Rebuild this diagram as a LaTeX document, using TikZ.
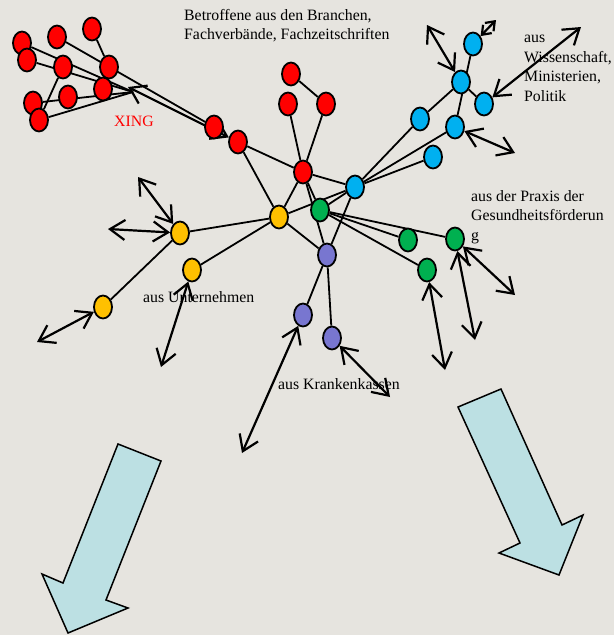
\documentclass[tikz,border=0pt]{standalone}
\usepackage{fontspec}
\setmainfont{Liberation Serif}
\usetikzlibrary{shapes.geometric,arrows.meta}
\pgfdeclarelayer{back}
\pgfdeclarelayer{edges}
\pgfsetlayers{back,edges,main}
\definecolor{bgc}{RGB}{230,228,223}
\definecolor{blk}{RGB}{188,224,227}
\definecolor{cy}{RGB}{0,176,240}
\definecolor{ye}{RGB}{255,192,0}
\definecolor{gr}{RGB}{0,176,80}
\definecolor{pu}{RGB}{120,118,208}
\begin{document}
\begin{tikzpicture}[x=1pt,y=-1pt,
  dot/.style={ellipse,draw=black,line width=1.8pt,minimum width=18pt,minimum height=23pt,inner sep=0pt},
  rd/.style={dot,fill=red},
  cn/.style={dot,fill=cy},
  yn/.style={dot,fill=ye},
  gn/.style={dot,fill=gr},
  pn/.style={dot,fill=pu},
  edge/.style={line width=1.8pt},
  dbl/.style={line width=2.2pt,{Straight Barb[length=15pt,width=20pt]}-{Straight Barb[length=15pt,width=20pt]}},
  lbl/.style={font=\fontsize{15.8}{19.5}\selectfont,align=left,anchor=base west,inner sep=0pt},
  bigarrow/.style={fill=blk,draw=black,line width=1.5pt,line join=miter}
]
\begin{pgfonlayer}{back}
\fill[bgc] (0,0) rectangle (614,635);
\end{pgfonlayer}
\useasboundingbox (0,0) rectangle (614,635);

% texts (anchor = baseline of last line)
\begin{pgfonlayer}{back}
\node[lbl,font=\fontsize{15.8}{18.5}\selectfont] (t1) at (184,39) {Betroffene aus den Branchen,\\Fachverbände, Fachzeitschriften};
\node[lbl,text=red] (xing) at (114,126) {XING};
\node[lbl] (t2) at (524,101) {aus\\Wissenschaft,\\Ministerien,\\Politik};
\node[lbl] (t3) at (471,240) {aus der Praxis der\\Gesundheitsförderun\\g};
\node[lbl] (t4) at (143,302) {aus Unternehmen};
\node[lbl] (t5) at (278,389) {aus Krankenkassen};
\end{pgfonlayer}

% red cluster
\node[rd] (r1) at (22,43) {};
\node[rd] (r2) at (27,60) {};
\node[rd] (r3) at (57,37) {};
\node[rd] (r4) at (92,29) {};
\node[rd] (r5) at (63,67) {};
\node[rd] (r6) at (109,67) {};
\node[rd] (r7) at (103,89) {};
\node[rd] (r8) at (68,97) {};
\node[rd] (r9) at (33,103) {};
\node[rd] (r10) at (39,120) {};
\node[rd] (r11) at (214,127) {};
\node[rd] (r12) at (238,142) {};
\coordinate (hub) at (133,92);
\coordinate (hubtip) at (128,87);

% main network
\node[rd] (rt1) at (291,74) {};
\node[rd] (rt2) at (288,104) {};
\node[rd] (rt3) at (326,104) {};
\node[rd] (C) at (303,172) {};
\node[cn] (B1) at (355,187) {};
\node[cn] (c1) at (473,44) {};
\node[cn] (c2) at (461,82) {};
\node[cn] (c3) at (484,104) {};
\node[cn] (c4) at (420,119) {};
\node[cn] (c5) at (455,127) {};
\node[cn] (c6) at (433,157) {};
\node[gn] (G1) at (320,210) {};
\node[gn] (G2) at (408,240) {};
\node[gn] (G3) at (455,239) {};
\node[gn] (G4) at (427,270) {};
\node[pn] (P1) at (327,255) {};
\node[pn] (P2) at (303,315) {};
\node[pn] (P3) at (332,338) {};
\node[yn] (Y1) at (279,217) {};
\node[yn] (Y2) at (180,233) {};
\node[yn] (Y3) at (192,270) {};
\node[yn] (Y4) at (103,307) {};

% free ends of double arrows
\coordinate (a2) at (427,25);
\coordinate (a3) at (496,20);
\coordinate (a4) at (581,27);
\coordinate (a5) at (515,153);
\coordinate (a6) at (138,177);
\coordinate (a7) at (108,229);
\coordinate (a8) at (37,342);
\coordinate (a9) at (161,367);
\coordinate (a10) at (242,453);
\coordinate (a11) at (390,397);
\coordinate (a12) at (445,370);
\coordinate (a13) at (475,340);
\coordinate (a14) at (515,295);

\begin{pgfonlayer}{edges}
% cluster edges
\draw[edge] (r1) -- (hub);
\draw[edge] (r2) -- (hub);
\draw[edge] (r3) -- (r11);
\draw[edge] (r4) -- (r6);
\draw[edge] (r5) -- (r10);
\draw[edge] (r9) -- (hub);
\draw[edge] (r10) -- (hub);
% network edges
\draw[edge] (r12) -- (C);
\draw[edge] (r12) -- (Y1);
\draw[edge] (rt1) -- (rt3);
\draw[edge] (rt2) -- (C);
\draw[edge] (rt3) -- (C);
\draw[edge] (C) -- (B1);
\draw[edge] (C) -- (Y1);
\draw[edge] (C) -- (G1);
\draw[edge] (C) -- (P1);
\draw[edge] (B1) -- (c4);
\draw[edge] (B1) -- (c5);
\draw[edge] (B1) -- (c6);
\draw[edge] (c2) -- (c4);
\draw[edge] (c1) -- (c5);
\draw[edge] (c2) -- (c3);
\draw[edge] (G1) -- (B1);
\draw[edge] (Y1) -- (B1);
\draw[edge] (P1) -- (B1);
\draw[edge] (Y1) -- (P1);
\draw[edge] (Y1) -- (Y2);
\draw[edge] (Y1) -- (Y3);
\draw[edge] (Y2) -- (Y4);
\draw[edge] (G1) -- (G2);
\draw[edge] (G1) -- (G3);
\draw[edge] (G1) -- (G4);
\draw[edge] (P1) -- (P2);
\draw[edge] (P1) -- (P3);
% double arrows
\draw[dbl] (hubtip) -- (r12);
\draw[dbl] (a2) -- (c2);
\draw[dbl,{Straight Barb[length=8pt,width=12pt]}-{Straight Barb[length=8pt,width=12pt]}] (c1) -- (a3);
\draw[dbl] (c3) -- (a4);
\draw[dbl] (c5) -- (a5);
\draw[dbl] (a6) -- (Y2);
\draw[dbl] (a7) -- (Y2);
\draw[dbl] (Y4) -- (a8);
\draw[dbl] (Y3) -- (a9);
\draw[dbl] (P2) -- (a10);
\draw[dbl] (P3) -- (a11);
\draw[dbl] (G4) -- (a12);
\draw[dbl] (G3) -- (a13);
\draw[dbl] (G3) -- (a14);
\end{pgfonlayer}

% big block arrows
\draw[bigarrow] (118,444) -- (161,461) -- (106,600) -- (128,608) -- (68,633) -- (42,574) -- (63,583) -- cycle;
\draw[bigarrow] (458,407) -- (501,389) -- (562,525) -- (583,515) -- (559,575) -- (499,553) -- (520,543) -- cycle;
\end{tikzpicture}
\end{document}
